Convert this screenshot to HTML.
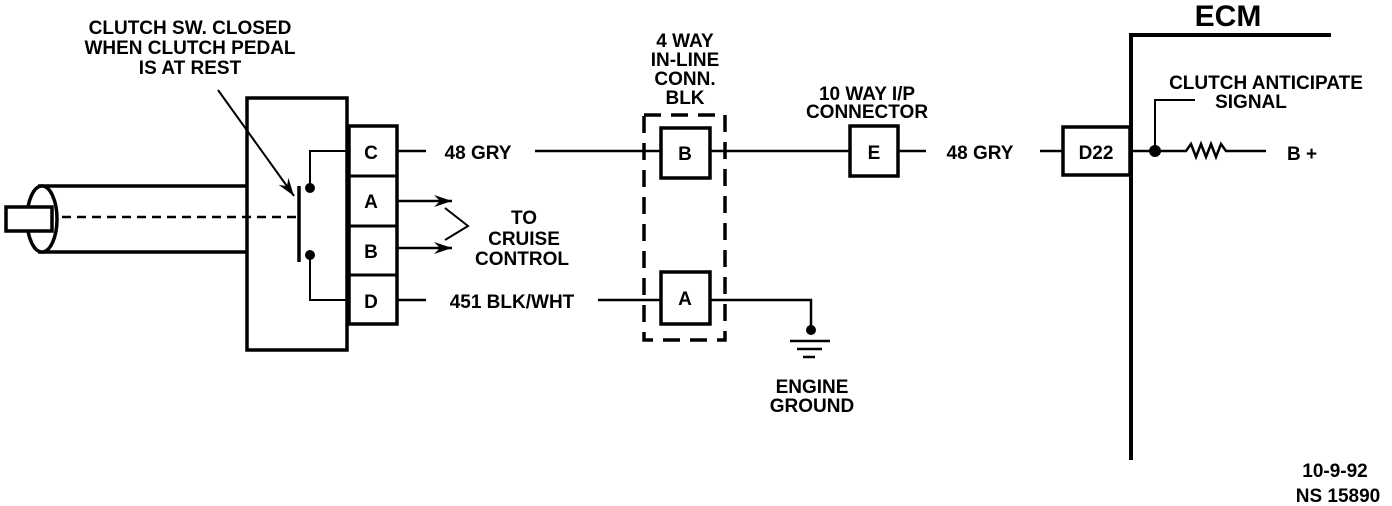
<!DOCTYPE html>
<html><head><meta charset="utf-8"><style>
html,body{margin:0;padding:0;background:#fff;}
svg{display:block;}
text{font-family:"Liberation Sans",sans-serif;font-weight:bold;font-size:19px;fill:#000;}
</style></head><body>
<svg width="1392" height="506" viewBox="0 0 1392 506" xmlns="http://www.w3.org/2000/svg">
<defs><marker id="ar" markerWidth="18" markerHeight="12" refX="18" refY="6" orient="auto" markerUnits="userSpaceOnUse"><path d="M0,0 L18,6 L0,12 L6,6 Z" fill="#000"/></marker></defs>
<g fill="none" stroke="#000">
<line x1="38" y1="186" x2="247" y2="186" stroke-width="3.5"/>
<line x1="38" y1="252" x2="247" y2="252" stroke-width="3.5"/>
<ellipse cx="42" cy="219" rx="15" ry="33" stroke-width="3.5" fill="#fff"/>
<rect x="6" y="207" width="46" height="24" stroke-width="3.5" fill="#fff"/>
<rect x="247" y="98" width="100" height="252" stroke-width="3.5" fill="#fff"/>
<line x1="62" y1="217" x2="298" y2="217" stroke-width="2.5" stroke-dasharray="9,6"/>
<rect x="349" y="126" width="48" height="198" stroke-width="3.5"/>
<line x1="349" y1="176" x2="397" y2="176" stroke-width="3"/>
<line x1="349" y1="226" x2="397" y2="226" stroke-width="3"/>
<line x1="349" y1="275" x2="397" y2="275" stroke-width="3"/>
<line x1="299" y1="186" x2="299" y2="262" stroke-width="3.5"/>
<polyline points="349,151 310,151 310,188" stroke-width="2"/>
<polyline points="349,300 310,300 310,255" stroke-width="2"/>
<line x1="218" y1="90" x2="294" y2="196" stroke-width="2" marker-end="url(#ar)"/>
<line x1="397" y1="201" x2="452" y2="201" stroke-width="2.5" marker-end="url(#ar)"/>
<line x1="397" y1="248" x2="452" y2="248" stroke-width="2.5" marker-end="url(#ar)"/>
<polyline points="445,208 468,226 445,240" stroke-width="2"/>
<line x1="397" y1="151" x2="426" y2="151" stroke-width="2.5"/>
<line x1="535" y1="151" x2="661" y2="151" stroke-width="2.5"/>
<line x1="397" y1="300" x2="426" y2="300" stroke-width="2.5"/>
<line x1="598" y1="300" x2="661" y2="300" stroke-width="2.5"/>
<rect x="644" y="115" width="81" height="225" stroke-width="3.5" stroke-dasharray="17,10"/>
<rect x="661" y="128" width="49" height="50" stroke-width="3.5" fill="#fff"/>
<rect x="661" y="272" width="49" height="52" stroke-width="3.5" fill="#fff"/>
<line x1="710" y1="151" x2="850" y2="151" stroke-width="2.5"/>
<rect x="850" y="126" width="48" height="50" stroke-width="3.5"/>
<line x1="898" y1="151" x2="926" y2="151" stroke-width="2.5"/>
<line x1="1040" y1="151" x2="1063" y2="151" stroke-width="2.5"/>
<polyline points="710,300 811,300 811,330" stroke-width="2.5"/>
<line x1="790" y1="341" x2="830" y2="341" stroke-width="2.5"/>
<line x1="797" y1="349" x2="822" y2="349" stroke-width="2.5"/>
<line x1="803" y1="357" x2="815" y2="357" stroke-width="2.5"/>
<polyline points="1131,460 1131,35 1331,35" stroke-width="4"/>
<rect x="1063" y="127" width="67" height="48" stroke-width="3.5"/>
<line x1="1131" y1="151" x2="1183" y2="151" stroke-width="2.5"/>
<polyline points="1155,151 1155,100 1195,100" stroke-width="2"/>
<polyline points="1183,151 1186,151 1191,144 1196,157 1201,144 1206,157 1211,144 1216,157 1221,144 1226,151 1266,151" stroke-width="2.5"/>
</g>
<circle cx="310" cy="188" r="5"/>
<circle cx="310" cy="255" r="5"/>
<circle cx="811" cy="330" r="5"/>
<circle cx="1155" cy="151" r="6"/>
<g text-anchor="middle">
<text x="190" y="34">CLUTCH SW. CLOSED</text>
<text x="190" y="54">WHEN CLUTCH PEDAL</text>
<text x="190" y="74">IS AT REST</text>
<text x="371" y="159">C</text>
<text x="371" y="208">A</text>
<text x="371" y="258">B</text>
<text x="371" y="308">D</text>
<text x="524" y="224">TO</text>
<text x="524" y="245">CRUISE</text>
<text x="522" y="265">CONTROL</text>
<text x="478" y="159">48 GRY</text>
<text x="512" y="308">451 BLK/WHT</text>
<text x="685" y="47">4 WAY</text>
<text x="685" y="66">IN-LINE</text>
<text x="685" y="85">CONN.</text>
<text x="685" y="104">BLK</text>
<text x="685" y="160">B</text>
<text x="685" y="305">A</text>
<text x="867" y="100">10 WAY I/P</text>
<text x="867" y="118">CONNECTOR</text>
<text x="874" y="159">E</text>
<text x="980" y="159">48 GRY</text>
<text x="1096" y="159">D22</text>
<text x="812" y="393">ENGINE</text>
<text x="812" y="412">GROUND</text>
<text x="1228" y="26" style="font-size:30px">ECM</text>
<text x="1266" y="89">CLUTCH ANTICIPATE</text>
<text x="1251" y="108">SIGNAL</text>
<text x="1302" y="160">B +</text>
<text x="1335" y="477">10-9-92</text>
<text x="1338" y="502">NS 15890</text>
</g>
</svg>
</body></html>
